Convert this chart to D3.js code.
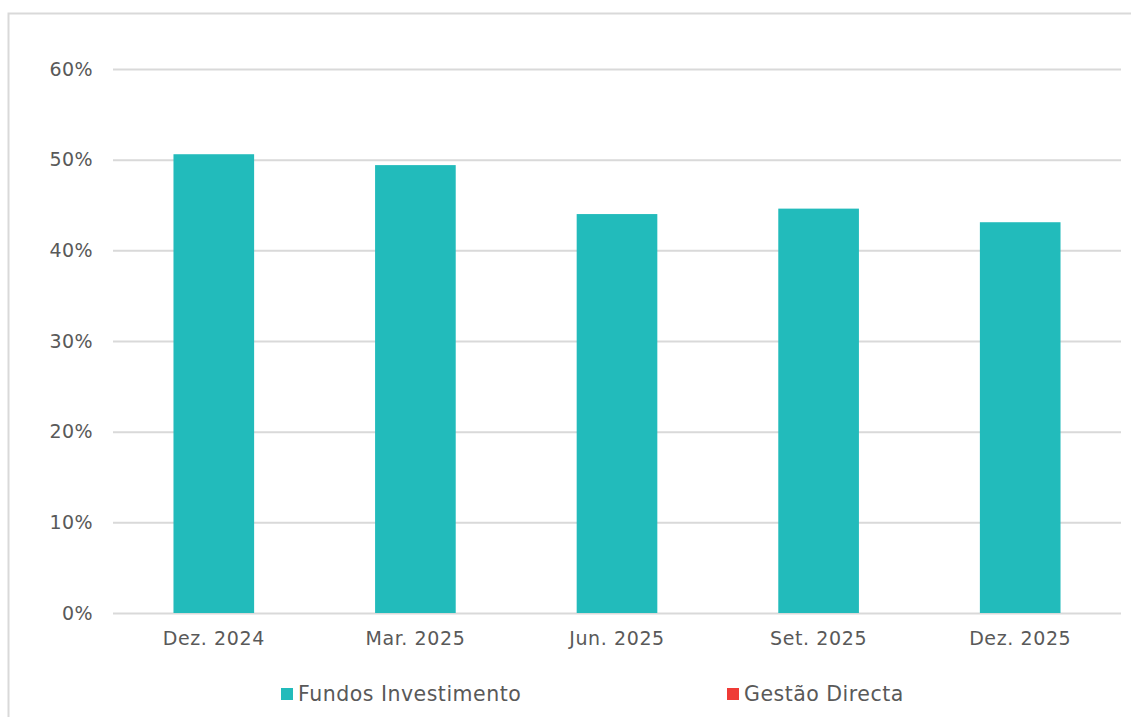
<!DOCTYPE html>
<html>
<head>
<meta charset="utf-8">
<script src="https://cdn.jsdelivr.net/npm/d3@7"></script>
<style>
  html, body { margin: 0; padding: 0; background: #fff; }
  svg { display: block; font-family: "DejaVu Sans", sans-serif; }
</style>
</head>
<body>
<div id="chart"></div>
<script>
const periods = ["Dez. 2024", "Mar. 2025", "Jun. 2025", "Set. 2025", "Dez. 2025"];
const fundosInvestimento = [0.506, 0.494, 0.440, 0.446, 0.431];
const yTicks = [0, 0.1, 0.2, 0.3, 0.4, 0.5, 0.6];
const seriesNames = ["Fundos Investimento", "Gestão Directa"];
const seriesColors = ["#22BBBB", "#EF3B36"];

(() => {
  const width = 1131;
  const height = 717;
  const margin = { top: 69, right: 10, bottom: 104, left: 113 };
  const font = "DejaVu Sans, sans-serif";

  const svg = d3.select("#chart")
    .append("svg")
    .attr("width", width)
    .attr("height", height);

  // frame (only left and top edges visible)
  svg.append("path")
    .attr("d", `M8.5,${height} V13.5 H${width}`)
    .attr("fill", "none")
    .attr("stroke", "#d9d9d9")
    .attr("stroke-width", 2);

  const x = d3.scaleBand()
    .domain(periods)
    .range([margin.left, width - margin.right])
    .paddingInner(0.6)
    .paddingOuter(0.3);

  const y = d3.scaleLinear()
    .domain([0, 0.6])
    .range([height - margin.bottom, margin.top]);

  // gridlines + y labels
  const yAxis = svg.append("g")
    .attr("transform", `translate(${margin.left},0)`)
    .call(d3.axisLeft(y)
      .tickValues(yTicks)
      .tickFormat(d3.format(".0%"))
      .tickSize(-(width - margin.right - margin.left))
      .tickPadding(20));
  yAxis.select(".domain").remove();
  yAxis.selectAll(".tick line").attr("stroke", "#d9d9d9").attr("stroke-width", 2);
  yAxis.selectAll(".tick text")
    .attr("fill", "#595959")
    .attr("font-size", 19)
    .attr("letter-spacing", 0.4)
    .attr("font-family", font);

  // bars
  svg.append("g")
    .selectAll("rect")
    .data(fundosInvestimento)
    .join("rect")
    .attr("x", (d, i) => x(periods[i]))
    .attr("y", d => y(d))
    .attr("width", x.bandwidth())
    .attr("height", d => y(0) - y(d))
    .attr("fill", seriesColors[0]);

  // x axis labels
  const xAxis = svg.append("g")
    .attr("transform", `translate(0,${y(0)})`)
    .call(d3.axisBottom(x).tickSize(0).tickPadding(19));
  xAxis.select(".domain").remove();
  xAxis.selectAll(".tick text")
    .attr("fill", "#595959")
    .attr("font-size", 19)
    .attr("letter-spacing", 0.6)
    .attr("font-family", font);

  // legend
  const legendX = [281, 727];
  const legend = svg.append("g")
    .selectAll("g")
    .data(seriesNames)
    .join("g")
    .attr("transform", (d, i) => `translate(${legendX[i]},688)`);
  legend.append("rect")
    .attr("width", 12)
    .attr("height", 12)
    .attr("fill", (d, i) => seriesColors[i]);
  legend.append("text")
    .attr("x", 17)
    .attr("y", 12.5)
    .attr("fill", "#595959")
    .attr("font-size", 20.5)
    .attr("letter-spacing", 0.5)
    .attr("font-family", font)
    .text(d => d);
})();
</script>
</body>
</html>
